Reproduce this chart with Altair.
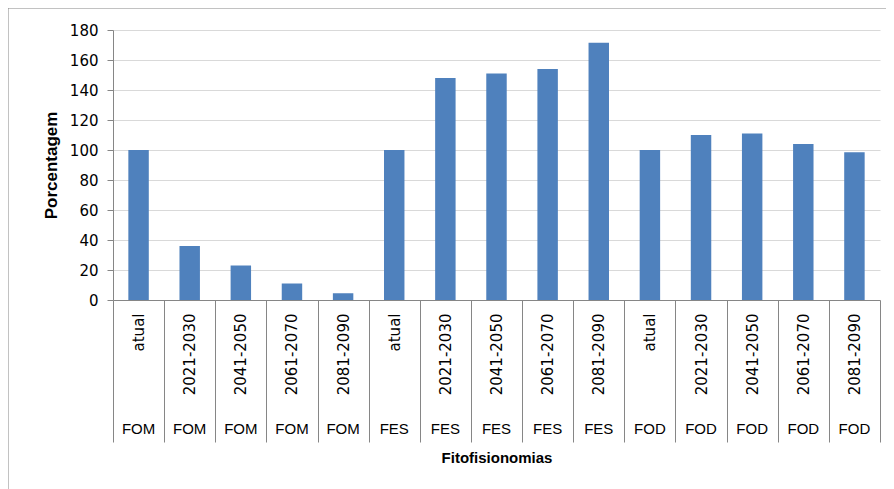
import altair as alt
import pandas as pd

groups = ["FOM", "FES", "FOD"]
periods = ["atual", "2021-2030", "2041-2050", "2061-2070", "2081-2090"]
fom = [100, 36, 23, 11, 4.5]
fes = [100, 148, 151, 154, 171.5]
fod = [100, 110, 111, 104, 98.5]

rows = []
for g, vals in zip(groups, [fom, fes, fod]):
    for p, v in zip(periods, vals):
        rows.append({"key": f"{g}|{p}", "group": g, "period": p, "value": v})
df = pd.DataFrame(rows)
order = list(df["key"])

GRAY = "#868686"
xscale = alt.Scale(paddingInner=0, paddingOuter=0)
yscale = alt.Scale(domain=[0, 180], nice=False)

y_axis = alt.Axis(
    values=list(range(0, 181, 20)),
    title="Porcentagem",
    grid=True,
    gridColor="#d9d9d9",
    domainColor=GRAY,
    tickColor=GRAY,
    tickSize=6,
    labelPadding=9,
    labelFont="DejaVu Sans",
    labelFontSize=15,
    labelColor="black",
    titleFont="Liberation Sans",
    titleFontSize=17,
    titleFontWeight="bold",
    titleColor="black",
    titlePadding=9,
)

bars = alt.Chart(df).mark_bar(width={"band": 0.4}, color="#4F81BD").encode(
    x=alt.X(
        "key:N",
        sort=order,
        scale=xscale,
        title="Fitofisionomias",
        axis=alt.Axis(
            orient="bottom",
            labelExpr="split(datum.value,'|')[1]",
            labelAngle=270,
            labelAlign="right",
            labelBaseline="middle",
            labelPadding=-129,
            tickBand="extent",
            tickSize=142,
            tickColor=GRAY,
            domainColor=GRAY,
            labelFont="DejaVu Sans",
            labelFontSize=15,
            labelColor="black",
            titleFont="Liberation Sans",
            titleFontSize=15,
            titleFontWeight="bold",
            titleColor="black",
            titlePadding=8,
        ),
    ),
    y=alt.Y("value:Q", scale=yscale, axis=y_axis),
)

group_axis = alt.Chart(df).mark_bar(width={"band": 0.4}, opacity=0).encode(
    x=alt.X(
        "key:N",
        sort=order,
        scale=xscale,
        title=None,
        axis=alt.Axis(
            orient="bottom",
            labelExpr="split(datum.value,'|')[0]",
            labelAngle=0,
            labelAlign="center",
            labelBaseline="top",
            labelPadding=121,
            ticks=False,
            tickSize=0,
            domain=False,
            labelFont="Liberation Sans",
            labelFontSize=15,
            labelColor="black",
        ),
    ),
    y=alt.Y("value:Q", scale=yscale, axis=y_axis),
)

frame = alt.Chart(pd.DataFrame({"a": [0]})).mark_rect(
    filled=False, stroke=GRAY, strokeWidth=1
).encode(
    x=alt.value(-105), x2=alt.value(900), y=alt.value(-22), y2=alt.value(600)
)

chart = (
    alt.layer(frame, bars, group_axis)
    .resolve_axis(x="independent")
    .properties(
        width=767,
        height=270,
        autosize=alt.AutoSizeParams(type="none"),
        padding={"left": 105, "top": 22, "right": 6, "bottom": 192},
        background="white",
    )
    .configure_view(stroke=None)
)

chart.save("out.html", embed_options={"renderer": "svg", "actions": False})
